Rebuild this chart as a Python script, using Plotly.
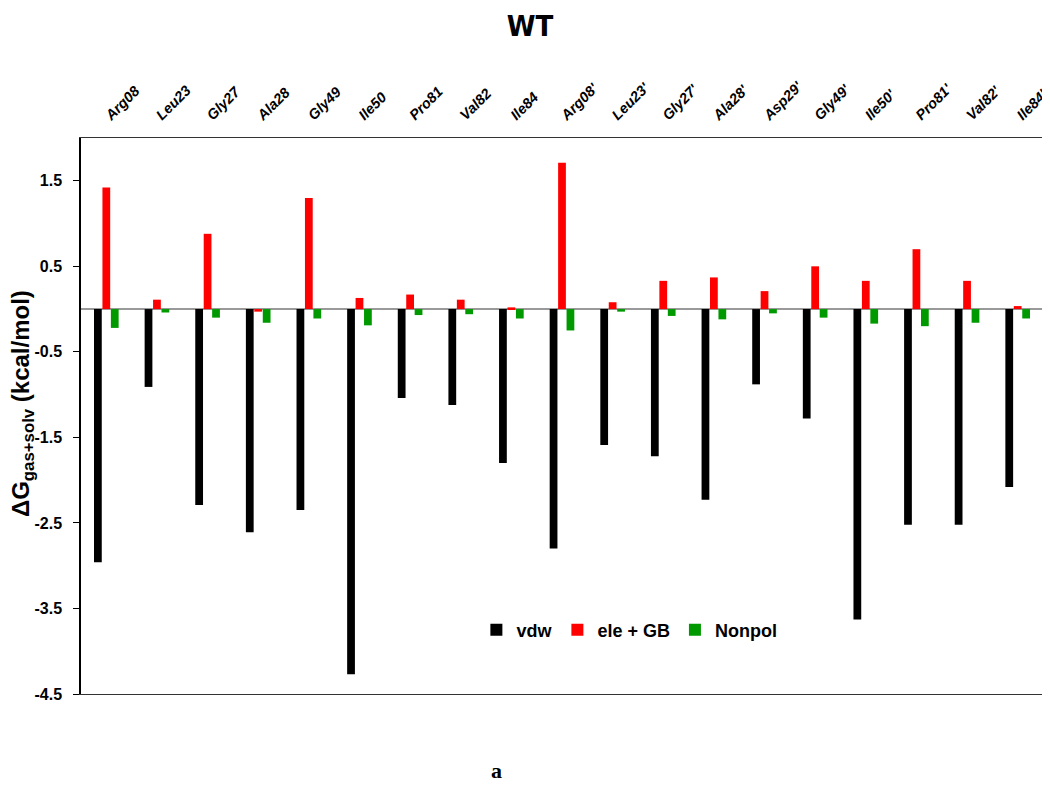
import plotly.graph_objects as go

residues = ["Arg08", "Leu23", "Gly27", "Ala28", "Gly49", "Ile50", "Pro81", "Val82", "Ile84",
            "Arg08'", "Leu23'", "Gly27'", "Ala28'", "Asp29'", "Gly49'", "Ile50'", "Pro81'", "Val82'", "Ile84'"]

vdw = [-2.96, -0.91, -2.29, -2.61, -2.35, -4.27, -1.04, -1.12, -1.80,
       -2.80, -1.59, -1.72, -2.23, -0.88, -1.28, -3.63, -2.52, -2.52, -2.08]
ele_gb = [1.42, 0.11, 0.88, -0.03, 1.30, 0.13, 0.17, 0.11, 0.02,
          1.71, 0.08, 0.33, 0.37, 0.21, 0.50, 0.33, 0.70, 0.33, 0.035]
nonpol = [-0.22, -0.04, -0.10, -0.16, -0.11, -0.19, -0.07, -0.06, -0.11,
          -0.25, -0.03, -0.08, -0.12, -0.05, -0.10, -0.17, -0.20, -0.16, -0.11]

y_ticks = [1.5, 0.5, -0.5, -1.5, -2.5, -3.5, -4.5]
y_tick_text = ["1.5", "0.5", "-0.5", "-1.5", "-2.5", "-3.5", "-4.5"]

fig = go.Figure()
fig.add_trace(go.Bar(x=residues, y=vdw, name="<b>vdw</b>", marker=dict(color="#000000", line=dict(width=0))))
fig.add_trace(go.Bar(x=residues, y=ele_gb, name="<b>ele + GB</b>", marker=dict(color="#ff0000", line=dict(width=0))))
fig.add_trace(go.Bar(x=residues, y=nonpol, name="<b>Nonpol</b>", marker=dict(color="#009900", line=dict(width=0))))

# page body adds an 8px offset; figure sized so the plot area lands on the reference pixels
fig.update_layout(
    width=1042, height=778,
    paper_bgcolor="white", plot_bgcolor="white",
    margin=dict(l=73, r=7, t=130, b=92),
    barmode="group", bargap=0.5, bargroupgap=0.08,
    font=dict(family="Liberation Sans, Arial, sans-serif", color="black"),
    title=dict(text="<b>WT</b>", x=0.501, xanchor="center", y=0.99, yanchor="top",
               font=dict(family="Liberation Sans Narrow, Arial Narrow, DejaVu Sans Condensed, Liberation Sans, sans-serif", size=29)),
    showlegend=True,
    legend=dict(orientation="h", x=0.411, xanchor="left", y=0.115, yanchor="middle",
                font=dict(size=18, family="Liberation Sans, Arial, sans-serif"),
                bgcolor="rgba(0,0,0,0)", itemwidth=30, traceorder="normal"),
)

fig.update_xaxes(
    side="top", type="category", tickangle=-45,
    tickfont=dict(size=14.5, family="Liberation Sans, Arial, sans-serif"),
    ticklabelstandoff=8, automargin=False,
    showline=True, linecolor="#333333", linewidth=1, mirror=True,
    ticks="", showgrid=False,
)
fig.for_each_xaxis(lambda a: a.update(ticktext=[f"<b><i>{r}</i></b>" for r in residues], tickvals=residues))

fig.update_yaxes(
    range=[-4.5, 2.0], tickvals=y_ticks, ticktext=[f"<b>{t}</b>" for t in y_tick_text],
    tickfont=dict(size=16), ticks="outside", ticklen=6, tickcolor="black",
    ticklabelstandoff=8, automargin=False,
    showline=True, linecolor="black", linewidth=1.5, mirror=True,
    showgrid=False, zeroline=True, zerolinecolor="#999999", zerolinewidth=1.5,
)

fig.add_annotation(text="<b>ΔG<sub>gas+solv</sub> (kcal/mol)</b>", textangle=-90,
                   xref="paper", yref="paper", x=-0.061, y=0.522,
                   xanchor="center", yanchor="middle", showarrow=False,
                   font=dict(size=24, family="Liberation Sans, Arial, sans-serif"))

fig.add_annotation(text="<b>a</b>", xref="paper", yref="paper", x=0.432, y=-0.137,
                   xanchor="center", yanchor="middle", showarrow=False,
                   font=dict(family="Liberation Serif, Times New Roman, serif", size=22))

fig.write_html("out.html")
